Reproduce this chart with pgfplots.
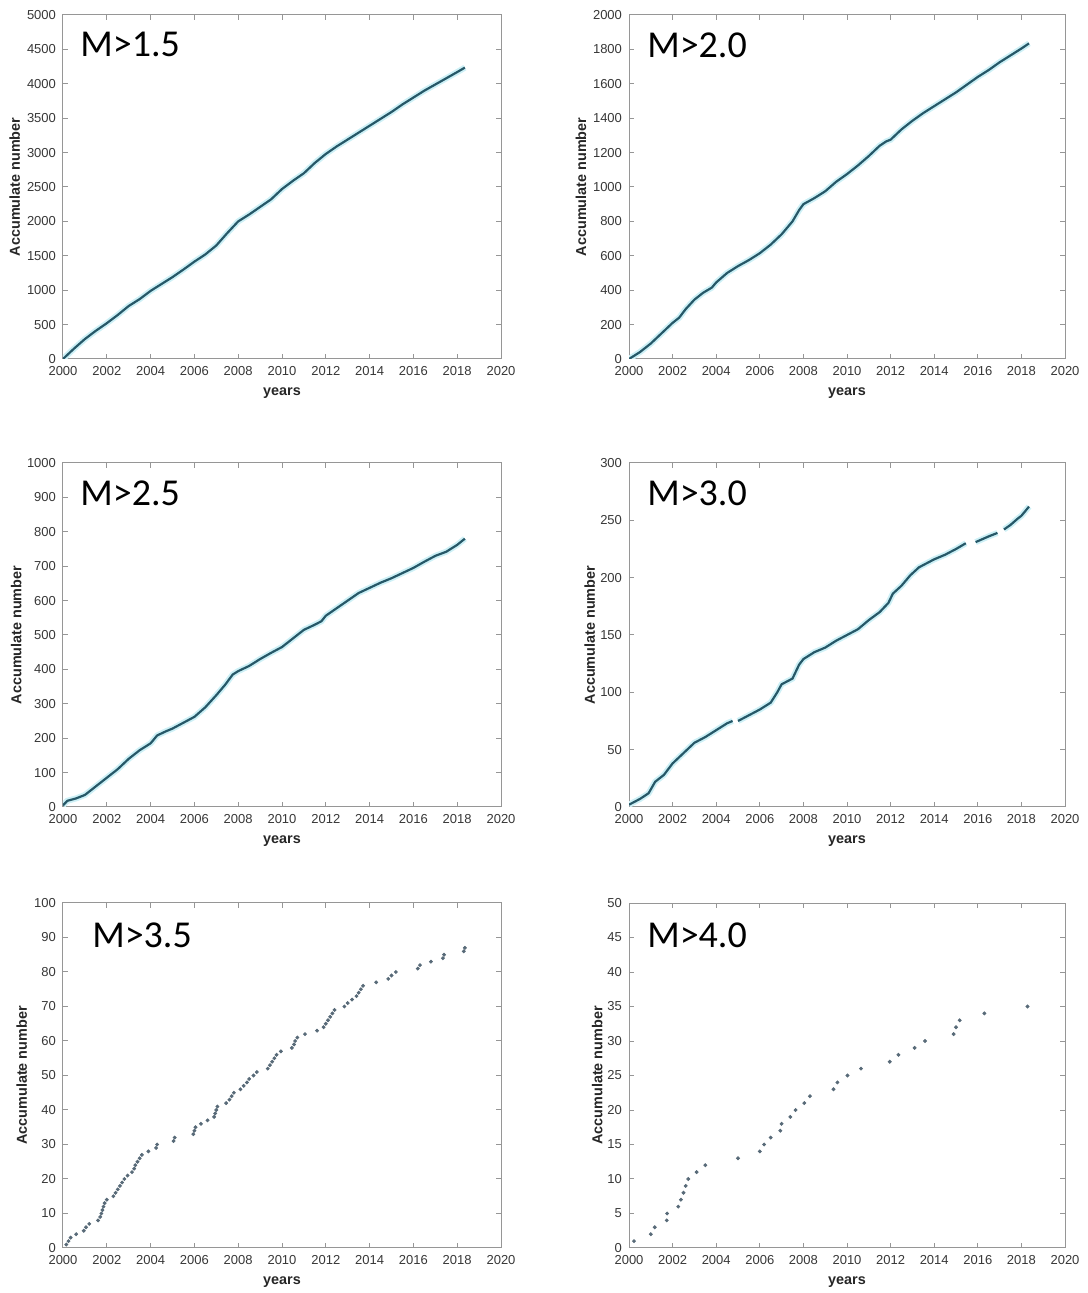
\documentclass[border=0pt]{standalone}
\usepackage{fontspec}
\setmainfont{Liberation Sans}
\newfontfamily\carlito{Carlito}
\usepackage{pgfplots}
\pgfplotsset{compat=1.18}
\usepackage{pgfplotstable}

\definecolor{linecol}{RGB}{38,88,104}
\definecolor{halo}{RGB}{205,240,246}
\definecolor{dotcol}{RGB}{88,106,120}
\definecolor{axcol}{RGB}{150,150,150}
\definecolor{txtcol}{RGB}{55,55,55}

\pgfplotstableread{
x y
2000.0 0
2000.5 150
2001.0 290
2001.5 410
2002.0 520
2002.5 640
2003.0 770
2003.5 870
2004.0 990
2004.5 1090
2005.0 1190
2005.5 1300
2006.0 1415
2006.5 1520
2007.0 1650
2007.5 1830
2008.0 2000
2008.5 2100
2009.0 2210
2009.5 2320
2010.0 2470
2010.5 2590
2011.0 2700
2011.5 2850
2012.0 2980
2012.5 3090
2013.0 3190
2013.5 3290
2014.0 3390
2014.5 3490
2015.0 3590
2015.5 3700
2016.0 3800
2016.5 3900
2017.0 3990
2017.5 4080
2018.0 4170
2018.35 4235
}\dataA

\pgfplotstableread{
x y
2000.0 0
2000.5 40
2001.0 90
2001.5 150
2002.0 210
2002.3 240
2002.6 290
2003.0 345
2003.4 385
2003.8 415
2004.0 445
2004.5 500
2005.0 540
2005.5 575
2006.0 615
2006.5 665
2007.0 725
2007.5 800
2007.8 865
2008.0 900
2008.5 935
2009.0 975
2009.5 1030
2010.0 1075
2010.5 1125
2011.0 1180
2011.5 1240
2011.8 1265
2012.0 1275
2012.5 1335
2013.0 1385
2013.5 1430
2014.0 1470
2014.5 1510
2015.0 1550
2015.5 1595
2016.0 1640
2016.5 1680
2017.0 1725
2017.5 1765
2018.0 1805
2018.35 1835
}\dataB

\pgfplotstableread{
x y
2000.0 5
2000.2 18
2000.6 25
2001.0 35
2001.5 60
2002.0 85
2002.5 110
2003.0 140
2003.5 165
2004.0 185
2004.3 208
2004.7 220
2005.0 228
2005.5 245
2006.0 262
2006.5 290
2007.0 325
2007.4 355
2007.75 385
2008.0 395
2008.5 410
2009.0 430
2009.5 448
2010.0 465
2010.5 490
2011.0 515
2011.5 530
2011.8 540
2012.0 556
2012.5 578
2013.0 600
2013.5 622
2014.0 637
2014.5 652
2015.0 665
2015.5 680
2016.0 695
2016.5 713
2017.0 730
2017.5 742
2018.0 762
2018.35 780
}\dataC

\pgfplotstableread{
x y
2000.0 2
2000.5 7
2000.9 12
2001.2 22
2001.6 28
2002.0 38
2002.5 47
2003.0 56
2003.5 61
2004.0 67
2004.5 73
2004.75 75
nan nan
2005.0 75
2005.5 80
2006.0 85
2006.5 91
2006.8 100
2007.0 107
2007.5 112
2007.8 124
2008.0 129
2008.5 135
2009.0 139
2009.5 145
2010.0 150
2010.5 155
2011.0 163
2011.5 170
2011.9 178
2012.1 186
2012.5 193
2012.9 202
2013.3 209
2014.0 216
2014.5 220
2015.0 225
2015.45 230
nan nan
2015.9 231
2016.5 236
2016.9 239
nan nan
2017.2 242
2017.5 246
2017.8 251
2018.0 254
2018.35 262
}\dataD

\pgfplotstableread{
x y
2000.15 1
2000.25 2
2000.35 3
2000.6 4
2000.95 5
2001.05 6
2001.2 7
2001.6 8
2001.7 9
2001.75 10
2001.8 11
2001.85 12
2001.9 13
2002.0 14
2002.3 15
2002.4 16
2002.5 17
2002.6 18
2002.7 19
2002.8 20
2002.95 21
2003.15 22
2003.25 23
2003.3 24
2003.4 25
2003.5 26
2003.6 27
2003.9 28
2004.25 29
2004.3 30
2005.05 31
2005.1 32
2005.95 33
2006.0 34
2006.05 35
2006.3 36
2006.6 37
2006.9 38
2006.95 39
2007.0 40
2007.05 41
2007.45 42
2007.6 43
2007.7 44
2007.8 45
2008.1 46
2008.25 47
2008.4 48
2008.5 49
2008.7 50
2008.85 51
2009.35 52
2009.45 53
2009.55 54
2009.65 55
2009.75 56
2009.95 57
2010.45 58
2010.55 59
2010.6 60
2010.7 61
2011.05 62
2011.6 63
2011.9 64
2012.0 65
2012.1 66
2012.2 67
2012.3 68
2012.4 69
2012.85 70
2013.0 71
2013.2 72
2013.4 73
2013.5 74
2013.6 75
2013.7 76
2014.3 77
2014.85 78
2015.0 79
2015.2 80
2016.2 81
2016.3 82
2016.8 83
2017.35 84
2017.4 85
2018.3 86
2018.35 87
}\dataE

\pgfplotstableread{
x y
2000.23 1
2001.0 2
2001.18 3
2001.73 4
2001.75 5
2002.26 6
2002.38 7
2002.5 8
2002.6 9
2002.72 10
2003.1 11
2003.5 12
2005.0 13
2006.0 14
2006.2 15
2006.5 16
2006.94 17
2007.0 18
2007.4 19
2007.64 20
2008.04 21
2008.3 22
2009.38 23
2009.56 24
2010.02 25
2010.64 26
2011.96 27
2012.36 28
2013.1 29
2013.58 30
2014.89 31
2015.0 32
2015.17 33
2016.3 34
2018.28 35
}\dataF

\tikzset{ttl/.style={anchor=west, inner sep=0pt, font=\carlito\fontsize{19}{21}\selectfont, text=black}}

\pgfplotsset{
  panel/.style={
    scale only axis, anchor=south west,
    width=219pt, height=172pt,
    xmin=2000, xmax=2020, xtick={2000,2002,...,2020},
    ymin=0,
    tick align=inside, tick pos=both,
    xticklabel pos=lower, yticklabel pos=left,
    major tick length=2.5pt,
    axis line style={axcol, line width=0.5pt},
    every tick/.style={axcol, line width=0.5pt},
    tick label style={font=\fontsize{6.5}{7}\selectfont, text=txtcol},
    /pgf/number format/1000 sep={},
    /pgf/number format/assume math mode=true,
    xlabel={years}, ylabel={Accumulate number},
    label style={font=\fontsize{7.2}{8}\selectfont\bfseries, text=black!85},
    xlabel style={at={(axis description cs:0.5,-0.1)}, anchor=center},
  },
  ylab/.style={ylabel style={at={(axis description cs:#1,0.5)}, anchor=center}},
  lineplot/.style={linecol, line width=1.1pt},
  haloplot/.style={halo, line width=3pt},
  dotplot/.style={only marks, mark=*, mark size=0.75pt, mark options={draw=dotcol, fill=dotcol}},
}

\begin{document}
\begin{tikzpicture}
\path[use as bounding box] (0,0) rectangle (543.5pt,646.5pt);

% M>1.5
\begin{axis}[panel, at={(31.5pt,467pt)}, ymax=5000, ytick={0,500,...,5000}, ylab=-0.11]
\addplot[haloplot] table {\dataA};
\addplot[lineplot] table {\dataA};
\node[ttl] at (axis description cs:0.039,0.913) {M>1.5};
\end{axis}

% M>2.0
\begin{axis}[panel, at={(314.5pt,467pt)}, width=218pt, ymax=2000, ytick={0,200,...,2000}, ylab=-0.11]
\addplot[haloplot] table {\dataB};
\addplot[lineplot] table {\dataB};
\node[ttl] at (axis description cs:0.041,0.913) {M>2.0};
\end{axis}

% M>2.5
\begin{axis}[panel, at={(31.5pt,243pt)}, ymax=1000, ytick={0,100,...,1000}, ylab=-0.107]
\addplot[haloplot] table {\dataC};
\addplot[lineplot] table {\dataC};
\node[ttl] at (axis description cs:0.039,0.913) {M>2.5};
\end{axis}

% M>3.0
\begin{axis}[panel, at={(314.5pt,243pt)}, width=218pt, ymax=300, ytick={0,50,...,300}, ylab=-0.09]
\addplot[haloplot, unbounded coords=jump] table {\dataD};
\addplot[lineplot, unbounded coords=jump] table {\dataD};
\node[ttl] at (axis description cs:0.041,0.913) {M>3.0};
\end{axis}

% M>3.5
\begin{axis}[panel, at={(31.5pt,22.5pt)}, height=172.5pt, ymax=100, ytick={0,10,...,100}, ylab=-0.094]
\addplot[dotplot] table {\dataE};
\node[ttl] at (axis description cs:0.066,0.907) {M>3.5};
\end{axis}

% M>4.0
\begin{axis}[panel, at={(314.5pt,22.5pt)}, width=218pt, height=172.5pt, ymax=50, ytick={0,5,...,50}, ylab=-0.073]
\addplot[dotplot] table {\dataF};
\node[ttl] at (axis description cs:0.041,0.907) {M>4.0};
\end{axis}
\end{tikzpicture}
\end{document}
